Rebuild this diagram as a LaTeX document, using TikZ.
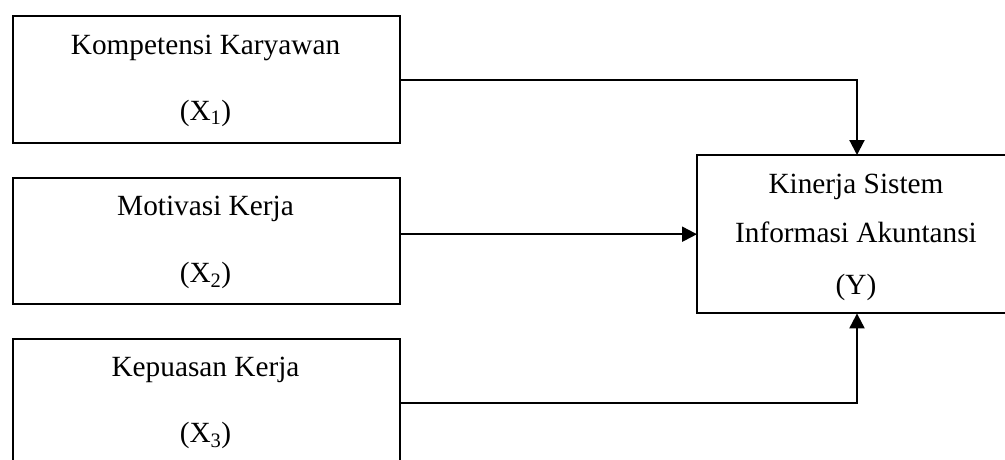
\documentclass[tikz,border=0pt]{standalone}
\usepackage{fontspec}
\setmainfont{Liberation Serif}
\usetikzlibrary{arrows.meta}
\tikzset{
  varbox/.style={draw, line width=2.1pt, rectangle, inner sep=0pt, anchor=north west},
  lbl/.style={anchor=base, inner sep=0pt, font=\fontsize{29.3}{34}\selectfont},
  link/.style={line width=2.1pt, -{Triangle[length=15pt,width=15pt]}},
}
\begin{document}
\begin{tikzpicture}[x=1pt,y=-1pt]
\useasboundingbox (0,0) rectangle (1005,459);
\clip (0,0) rectangle (1005,459);
% independent variables
\node[varbox, minimum width=387pt, minimum height=127pt] (k1) at (12,15) {};
\node[varbox, minimum width=387pt, minimum height=126pt] (k2) at (12,177) {};
\node[varbox, minimum width=387pt, minimum height=127pt] (k3) at (12,338) {};
% dependent variable: only its left, top and bottom sides fall on the page
\node[anchor=north west, inner sep=0pt, minimum width=600pt, minimum height=158pt] (y) at (697,155) {};
\draw[line width=2.1pt] (y.north east) -- (y.north west) -- (y.south west) -- (y.south east);
% labels
\node[lbl] (k1a) at (205.5,54) {Kompetensi Karyawan};
\node[lbl] (k1b) at (205.5,120) {(X\textsubscript{1})};
\node[lbl] (k2a) at (205.5,215) {Motivasi Kerja};
\node[lbl] (k2b) at (205.5,282) {(X\textsubscript{2})};
\node[lbl] (k3a) at (205.5,376) {Kepuasan Kerja};
\node[lbl] (k3b) at (205.5,442) {(X\textsubscript{3})};
\node[lbl] (ya) at (856,193) {Kinerja Sistem};
\node[lbl] (yb) at (856,242) {Informasi Akuntansi};
\node[lbl] (yc) at (856,294) {(Y)};
% connectors
\draw[link] (k1.east) -| ([xshift=160pt]y.north west);
\draw[link] (k2.east |- y.west) -- (y.west);
\draw[link] (k3.east) -| ([xshift=160pt]y.south west);
\end{tikzpicture}
\end{document}
